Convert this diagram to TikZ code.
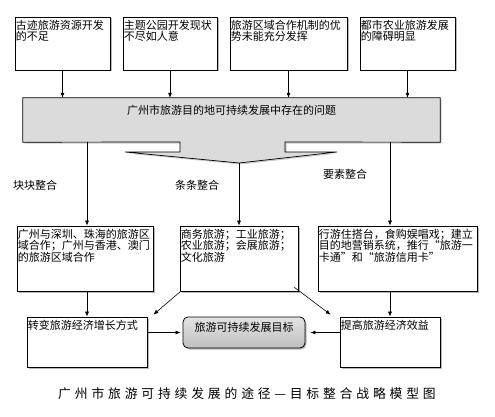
\documentclass[tikz,border=0pt]{standalone}
\usepackage{fontspec}
\usetikzlibrary{arrows.meta,calc,positioning,shadows}
\newfontfamily\cjk{Noto Sans CJK SC}
\newfontfamily\capfont[LetterSpace=30]{Noto Sans CJK SC}
\tikzset{
  box/.style={draw,fill=white,line width=0.7pt,drop shadow={shadow xshift=1.5pt,shadow yshift=-1.5pt,fill=gray!55,opacity=1}},
  txt/.style={font=\cjk\fontsize{11}{11.5}\selectfont,align=left,anchor=north west,inner xsep=1pt,inner ysep=3pt},
  lbl/.style={font=\cjk\fontsize{11}{11.5}\selectfont,anchor=west,inner sep=0pt},
  arr/.style={-{Latex[length=5pt,width=4pt]},line width=0.6pt},
  goalbox/.style={draw,line width=0.8pt,rounded corners=5pt,top color=gray!22,bottom color=gray!50,drop shadow={shadow xshift=1.5pt,shadow yshift=-1.5pt,fill=gray!55,opacity=1}}
}
\begin{document}
\begin{tikzpicture}[x=1pt,y=-1pt]
\useasboundingbox (0,0) rectangle (495,417);
\node[box,minimum width=95pt,minimum height=53pt] (t1) at (62.5,43.5) {};
\node[box,minimum width=94pt,minimum height=53pt] (t2) at (170,43.5) {};
\node[box,minimum width=117pt,minimum height=53pt] (t3) at (288.5,43.5) {};
\node[box,minimum width=95pt,minimum height=53pt] (t4) at (407.5,43.5) {};
\node[txt] at (t1.north west) {古迹旅游资源开发\\的不足};
\node[txt] at (t2.north west) {主题公园开发现状\\不尽如人意};
\node[txt] at (t3.north west) {旅游区域合作机制的优\\势未能充分发挥};
\node[txt] at (t4.north west) {都市农业旅游发展\\的障碍明显};
\node[minimum width=417pt,minimum height=44pt,inner sep=0pt] (prob) at (231.5,120) {};
\coordinate (tip) at (239,163);
\draw[fill=gray!28,line width=0.7pt,drop shadow={shadow xshift=1.5pt,shadow yshift=-1.5pt,fill=gray!40,opacity=1}]
  (prob.north west) -- (prob.north east) -- (prob.south east) -- (285,142) -- (285,152)
  -- (337,152) -- (tip) -- (125,152) -- (180,152) -- (180,142) -- (prob.south west) -- cycle;
\node[font=\cjk\fontsize{11}{11}\selectfont] at (231.5,110) {广州市旅游目的地可持续发展中存在的问题};
\foreach \t in {t1,t2,t3,t4}
  \draw[arr] (\t.south) -- (\t.south |- prob.north);
\node[lbl] (kuai) at (13,185) {块块整合};
\node[lbl] (tiao) at (175,185) {条条整合};
\node[lbl] (yao) at (323,174) {要素整合};
\node[box,minimum width=136pt,minimum height=65pt] (m1) at (85,258.5) {};
\node[box,minimum width=118pt,minimum height=65pt] (m2) at (239,258.5) {};
\node[box,minimum width=159pt,minimum height=65pt] (m3) at (397.5,258.5) {};
\node[txt] at (m1.north west) {广州与深圳、珠海的旅游区\\域合作；广州与香港、澳门\\的旅游区域合作};
\node[txt] at (m2.north west) {商务旅游；工业旅游；\\农业旅游；会展旅游；\\文化旅游};
\node[txt] at (m3.north west) {行游住搭台，食购娱唱戏；建立\\目的地营销系统，推行“旅游一\\卡通”和“旅游信用卡”};
\node[box,minimum width=120pt,minimum height=50pt] (bl) at (87,342) {};
\node[box,minimum width=100pt,minimum height=50pt] (br) at (390,342) {};
\node[goalbox,minimum width=122pt,minimum height=31pt] (goal) at (244,332.5) {};
\node[txt] at (bl.north west) {转变旅游经济增长方式};
\node[txt] at (br.north west) {提高旅游经济效益};
\node[font=\cjk\fontsize{11}{11}\selectfont] at ([yshift=5pt]goal.center) {旅游可持续发展目标};
\draw[arr] (bl |- prob.south) -- (bl |- m1.north);
\draw[arr] (tip) -- (m2.north);
\draw[arr] (br |- prob.south) -- (br |- m3.north);
\draw[arr] (bl |- m1.south) -- (bl.north);
\draw[arr] (br |- m3.south) -- (br.north);
\draw[arr] ([xshift=1pt]m2.south west) -- ([xshift=6pt,yshift=2pt]bl.north east);
\draw[arr] ([xshift=-4pt,yshift=4pt]m2.south east) -- ([xshift=-9pt,yshift=2pt]br.north west);
\draw[arr] (goal -| bl.east) -- ([xshift=-2pt]goal.west);
\draw[arr] (goal -| br.west) -- ([xshift=5pt]goal.east);
\node[font=\capfont\fontsize{12.8}{13}\selectfont] (cap) at (247,394) {广州市旅游可持续发展的途径—目标整合战略模型图};
\end{tikzpicture}
\end{document}
